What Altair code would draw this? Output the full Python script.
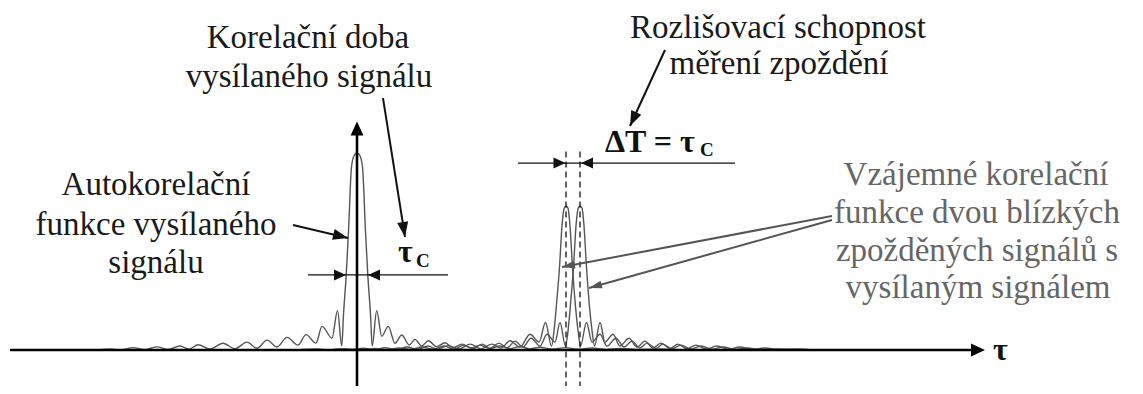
import math
import altair as alt
import pandas as pd

# ---------------- data (delay tau, normalised correlation amplitude) ----------------
# autocorrelation of the transmitted signal
acf_tau = [-34.7, -26.2, -24.7, -23.7, -22.4, -21.2, -20.0, -18.9, -17.7, -16.8, -15.9, -14.7,
           -13.4, -12.2, -11.0, -10.0, -9.0, -8.0, -7.0, -5.9, -5.1, -4.1, -3.5, -2.5, -1.95,
           -1.52, -1.35, -1.08, -0.85, -0.55, -0.25, 0.0, 0.25, 0.55, 0.85, 1.08, 1.35, 1.52,
           1.97, 2.47, 3.13, 3.8, 4.47, 5.23, 5.8, 6.47, 7.13, 7.97, 8.8, 9.6, 10.5, 11.4, 12.3,
           13.3, 14.3, 15.3, 16.3, 17.3, 18.3, 19.5, 20.8, 22.1, 23.5, 24.9, 26.3, 28.3, 30.3,
           32.8, 62.0]
acf_amp = [0.0, 0.0, 0.006, 0.0, 0.012, 0.002, 0.016, 0.003, 0.02, 0.004, 0.027, 0.005,
           0.034, 0.007, 0.04, 0.009, 0.05, 0.015, 0.064, 0.025, 0.078, 0.035, 0.12, 0.06, 0.2,
           0.02, 0.18, 0.38, 0.6, 0.93, 0.99, 1.0, 0.99, 0.93, 0.6, 0.38, 0.18, 0.02,
           0.2, 0.07, 0.12, 0.034, 0.076, 0.025, 0.054, 0.02, 0.047, 0.017, 0.037, 0.012, 0.03,
           0.01, 0.025, 0.008, 0.02, 0.007, 0.017, 0.006, 0.014, 0.005, 0.012, 0.004, 0.01,
           0.003, 0.008, 0.002, 0.006, 0.0, 0.0]

# cross-correlation with the first delayed echo
cc1_tau = [-6.0, -4.0, -2.8, -1.6, -0.5, 0.6, 1.7, 2.8, 3.9, 5.0, 6.0, 7.1, 8.0, 9.1, 10.2,
           11.3, 12.4, 13.5, 14.4, 15.3, 16.3, 17.3, 18.2, 18.85, 19.45,
           19.75, 19.98, 20.25, 20.5, 20.72, 20.9, 21.1, 21.3, 21.55, 21.85, 22.1, 22.35,
           22.95, 23.5, 24.3, 25.0, 25.9, 26.7, 27.5, 28.3, 29.0, 29.9, 30.6, 31.5, 32.4, 33.4,
           34.4, 35.5, 36.6, 37.8, 39.0, 40.5, 42.0, 44.0]
cc1_amp = [0.0, 0.005, 0.001, 0.007, 0.001, 0.009, 0.002, 0.012, 0.002, 0.015, 0.003, 0.02,
           0.004, 0.022, 0.005, 0.03, 0.006, 0.03, 0.01, 0.047, 0.015, 0.08, 0.04, 0.14, 0.02,
           0.12, 0.25, 0.42, 0.63, 0.72, 0.73, 0.72, 0.63, 0.42, 0.22, 0.1, 0.02,
           0.14, 0.04, 0.08, 0.02, 0.06, 0.015, 0.045, 0.01, 0.035, 0.008, 0.03, 0.006, 0.025,
           0.005, 0.02, 0.004, 0.015, 0.003, 0.01, 0.002, 0.006, 0.0]

# cross-correlation with the second delayed echo
cc2_tau = [-2.5, -1.0, 0.5, 1.8, 3.0, 4.2, 5.4, 6.5, 7.6, 8.7, 9.7, 10.7, 11.6, 12.5, 13.3,
           14.2, 15.0, 15.8, 16.6, 17.4, 18.3, 19.0, 19.8, 20.3, 20.85,
           21.15, 21.38, 21.65, 21.9, 22.12, 22.3, 22.5, 22.7, 22.95, 23.25, 23.5, 23.75,
           24.3, 24.8, 25.6, 26.3, 27.2, 28.0, 28.8, 29.6, 30.4, 31.3, 32.1, 33.0, 33.9, 34.9,
           36.0, 37.1, 38.3, 39.5, 40.8, 42.3, 43.9, 46.0]
cc2_amp = [0.0, 0.005, 0.001, 0.008, 0.002, 0.01, 0.003, 0.015, 0.004, 0.02, 0.005, 0.025,
           0.006, 0.03, 0.008, 0.035, 0.01, 0.045, 0.015, 0.06, 0.02, 0.08, 0.04, 0.14, 0.02,
           0.12, 0.25, 0.42, 0.63, 0.72, 0.73, 0.72, 0.63, 0.42, 0.22, 0.1, 0.02,
           0.14, 0.04, 0.08, 0.02, 0.06, 0.015, 0.045, 0.01, 0.035, 0.008, 0.03, 0.006, 0.025,
           0.005, 0.02, 0.004, 0.015, 0.003, 0.01, 0.002, 0.006, 0.0]

# ---------------- annotation texts ----------------
black_texts = ["Korelační doba", "vysílaného signálu", "Rozlišovací schopnost", "měření zpoždění",
               "Autokorelační", "funkce vysílaného", "signálu"]
black_tx = [-4.9, -4.8, 42.1, 42.2, -20.1, -20.1, -20.1]
black_ty = [1.533, 1.335, 1.584, 1.401, 0.787, 0.584, 0.391]

gray_texts = ["Vzájemné korelační", "funkce dvou blízkých", "zpožděných signálů s", "vysílaným signálem"]
gray_tx = [61.9, 62.0, 62.0, 62.1]
gray_ty = [0.838, 0.645, 0.452, 0.264]

sym_texts = ["ΔT = τ", "τ", "τ"]
sym_tx = [24.8, 4.1, 63.6]
sym_ty = [1.005, 0.447, -0.051]
sub_texts = ["C", "C"]
sub_tx = [34.3, 5.9]
sub_ty = [0.985, 0.421]

# ---------------- geometry of the drawing ----------------
W, H = 1127, 378
X_DOM = [-34.9, 77.8]
Y_DOM = [-0.1827, 1.736]
PX_X = W / (X_DOM[1] - X_DOM[0])
PX_Y = H / (Y_DOM[1] - Y_DOM[0])

xs = alt.Scale(domain=X_DOM, nice=False, zero=False)
ys = alt.Scale(domain=Y_DOM, nice=False, zero=False)


def X(f):
    return alt.X(f, type="quantitative", scale=xs, axis=None)


def Y(f):
    return alt.Y(f, type="quantitative", scale=ys, axis=None)


def heading(x1, y1, x2, y2):
    dx = (x2 - x1) * PX_X
    dy = -(y2 - y1) * PX_Y
    return math.degrees(math.atan2(dx, -dy)) % 360


# curves
rows = []
for name, ts, am in (("acf", acf_tau, acf_amp), ("cc1", cc1_tau, cc1_amp), ("cc2", cc2_tau, cc2_amp)):
    for i, (t, a) in enumerate(zip(ts, am)):
        rows.append({"series": name, "i": i, "tau": t, "amp": a})
curves = pd.DataFrame(rows)

curve_layer = alt.Chart(curves).mark_line(
    color="#555555", strokeWidth=1.4, interpolate="monotone"
).encode(x=X("tau"), y=Y("amp"), detail="series:N", order="i:Q")

# straight segments: axes, dimension lines, pointer lines
axis_segs = pd.DataFrame([
    {"x": -34.7, "y": 0.0, "x2": 61.6, "y2": 0.0},
    {"x": 0.0, "y": -0.19, "x2": 0.0, "y2": 1.10},
])
dim_segs = pd.DataFrame([
    {"x": -4.9, "y": 0.381, "x2": 9.1, "y2": 0.381},
    {"x": 16.1, "y": 0.949, "x2": 37.8, "y2": 0.949},
])
ptr_black = [(2.6, 1.279, 4.8, 0.574), (-6.4, 0.635, -0.9, 0.569), (30.8, 1.523, 27.3, 1.137)]
ptr_gray = [(47.5, 0.680, 20.5, 0.421), (47.5, 0.660, 23.2, 0.315)]
ptr_black_df = pd.DataFrame(ptr_black, columns=["x", "y", "x2", "y2"])
ptr_gray_df = pd.DataFrame(ptr_gray, columns=["x", "y", "x2", "y2"])
dash_df = pd.DataFrame([
    {"x": 20.9, "y": -0.19, "x2": 20.9, "y2": 1.025},
    {"x": 22.3, "y": -0.19, "x2": 22.3, "y2": 1.025},
])


def rules(df, color, width, dash=None):
    kw = dict(color=color, strokeWidth=width)
    if dash:
        kw["strokeDash"] = dash
    return alt.Chart(df).mark_rule(**kw).encode(x=X("x"), y=Y("y"), x2="x2:Q", y2="y2:Q")


# arrowheads
axis_heads = pd.DataFrame([{"x": 62.8, "y": 0.0, "ang": 90}, {"x": 0.0, "y": 1.16, "ang": 0}])
dim_heads = pd.DataFrame([
    {"x": -1.1, "y": 0.381, "ang": 90}, {"x": 1.1, "y": 0.381, "ang": 270},
    {"x": 20.85, "y": 0.949, "ang": 90}, {"x": 22.4, "y": 0.949, "ang": 270},
])
black_heads = pd.DataFrame([{"x": b[2], "y": b[3], "ang": heading(*b)} for b in ptr_black])
gray_heads = pd.DataFrame([{"x": b[2], "y": b[3], "ang": heading(*b)} for b in ptr_gray])


def heads(df, shape, size, color):
    return alt.Chart(df).mark_point(
        shape=shape, size=size, filled=True, color=color, opacity=1, strokeWidth=0
    ).encode(x=X("x"), y=Y("y"), angle=alt.Angle("ang:Q", scale=None))


WIDE = "M0,0L0.46,1L-0.46,1Z"
SLIM = "M0,0L0.37,1L-0.37,1Z"
THIN = "M0,0L0.3,1L-0.3,1Z"


def texts(txt, tx, ty, size, color, bold=False, align="center"):
    layers = []
    for t, x, y in zip(txt, tx, ty):
        df = pd.DataFrame({"t": [t], "x": [x], "y": [y]})
        kw = dict(font="Liberation Serif", fontSize=size, color=color, align=align,
                  baseline="alphabetic")
        if bold:
            kw["fontWeight"] = "bold"
        layers.append(alt.Chart(df).mark_text(**kw).encode(x=X("x"), y=Y("y"), text="t:N"))
    return layers


chart = alt.layer(
    curve_layer,
    rules(dash_df, "#111111", 1.3, [6, 4]),
    rules(axis_segs, "#000000", 2.6),
    rules(dim_segs, "#111111", 1.3),
    rules(ptr_black_df, "#111111", 2.0),
    rules(ptr_gray_df, "#555555", 2.0),
    heads(axis_heads, WIDE, 784, "#000000"),
    heads(dim_heads, WIDE, 576, "#111111"),
    heads(black_heads, SLIM, 900, "#111111"),
    heads(gray_heads, THIN, 676, "#555555"),
    *texts(black_texts, black_tx, black_ty, 33, "#1a1a1a"),
    *texts(gray_texts, gray_tx, gray_ty, 33, "#666666"),
    *texts(sym_texts, sym_tx, sym_ty, 32, "#111111", True, "left"),
    *texts(sub_texts, sub_tx, sub_ty, 19, "#111111", True, "left"),
).properties(
    width=W, height=H, padding=0, autosize=alt.AutoSizeParams(type="none")
).configure_view(strokeWidth=0)

chart.save("out.html", embed_options={"renderer": "svg", "actions": False})
